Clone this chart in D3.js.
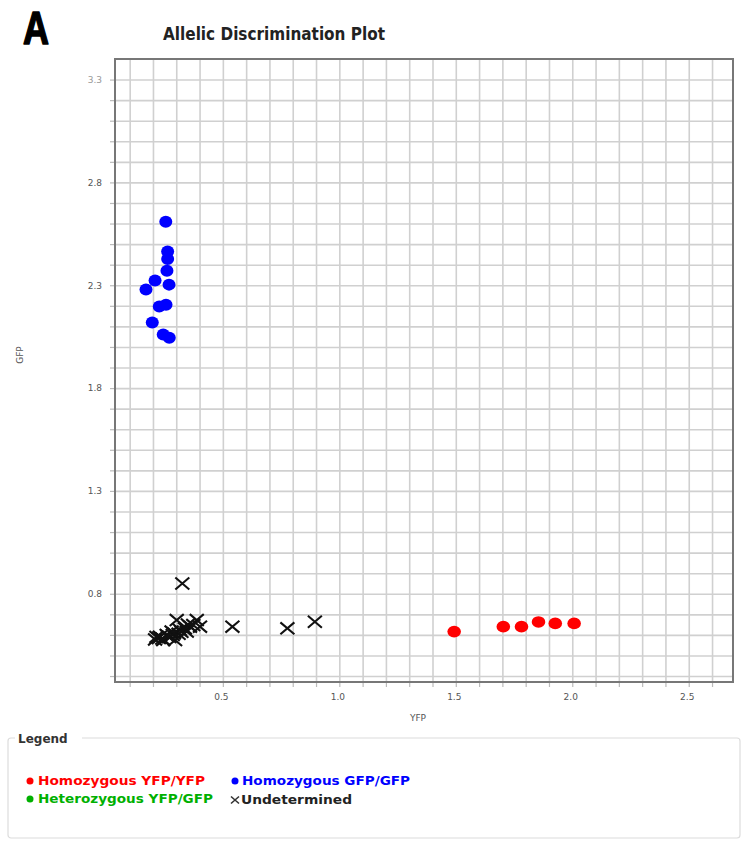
<!DOCTYPE html>
<html><head><meta charset="utf-8">
<script src="https://cdn.jsdelivr.net/npm/d3@7"></script>
<style>body{margin:0;background:#fff;}svg{display:block;}</style>
</head><body>
<svg id="c" width="742" height="841"></svg>
<script>
// ---- data ----
const homoGFP = [[0.255,2.609],[0.263,2.464],[0.263,2.428],[0.260,2.371],[0.209,2.323],[0.170,2.279],[0.269,2.303],[0.227,2.197],[0.256,2.205],[0.197,2.119],[0.244,2.061],[0.270,2.045]];
const homoYFP = [[1.493,0.616],[1.704,0.640],[1.782,0.640],[1.855,0.663],[1.927,0.656],[2.008,0.656]];
const heteroYFPGFP = [];
const undetermined = [[0.326,0.850],[0.541,0.640],[0.777,0.632],[0.895,0.664],
  [0.302,0.672],[0.388,0.672],[0.359,0.640],[0.230,0.591],[0.209,0.578],[0.259,0.600],[0.280,0.616],
  [0.316,0.624],[0.337,0.632],[0.373,0.648],[0.295,0.575],[0.244,0.575],[0.345,0.616],[0.402,0.640],
  [0.270,0.590],[0.310,0.605],[0.225,0.585],[0.350,0.650],[0.285,0.600],[0.215,0.590],[0.240,0.582],
  [0.262,0.595],[0.290,0.608],[0.322,0.615]];
const xTickLabels = ["0.5","1.0","1.5","2.0","2.5"];
const yTickLabels = ["0.8","1.3","1.8","2.3","2.8","3.3"];
const legendItems = [
  {label:"Homozygous YFP/YFP", color:"#ff0000", type:"dot"},
  {label:"Homozygous GFP/GFP", color:"#0000ff", type:"dot"},
  {label:"Heterozygous YFP/GFP", color:"#00b000", type:"dot"},
  {label:"Undetermined", color:"#000000", type:"x"}
];

const svg = d3.select("#c");
const L=115, R=733, T=59, B=682;
const x = d3.scaleLinear().domain([0.037,2.69]).range([L,R]);
const y = d3.scaleLinear().domain([0.371,3.4]).range([B,T]);

const xMinor = d3.range(1,27).map(i=>+(i/10).toFixed(1));
const yMinor = d3.range(4,34).map(i=>+(i/10).toFixed(1));

// grid
const gx = svg.append("g").attr("transform",`translate(0,${B})`)
  .call(d3.axisBottom(x).tickValues(xMinor).tickSize(-(B-T)).tickFormat(""));
gx.select(".domain").remove();
gx.selectAll("line").attr("stroke","#d0d0d0").attr("stroke-width",1.6);
const gy = svg.append("g").attr("transform",`translate(${L},0)`)
  .call(d3.axisLeft(y).tickValues(yMinor).tickSize(-(R-L)).tickFormat(""));
gy.select(".domain").remove();
gy.selectAll("line").attr("stroke","#d0d0d0").attr("stroke-width",1.6);

// outer ticks
const tx = svg.append("g").attr("transform",`translate(0,${B})`)
  .call(d3.axisBottom(x).tickValues(xMinor).tickSize(5).tickPadding(7)
    .tickFormat(d=>{const s=d.toFixed(1);return xTickLabels.includes(s)?s:"";}));
tx.select(".domain").remove();
tx.selectAll("line").attr("stroke","#bbb").attr("stroke-width",1.2);
tx.selectAll("text").attr("font-family","DejaVu Sans").attr("font-size",9).attr("fill","#555").attr("dx",-2);
const ty = svg.append("g").attr("transform",`translate(${L},0)`)
  .call(d3.axisLeft(y).tickValues(yMinor).tickSize(5).tickPadding(8)
    .tickFormat(d=>{const s=d.toFixed(1);return yTickLabels.includes(s)?s:"";}));
ty.select(".domain").remove();
ty.selectAll("line").attr("stroke","#bbb").attr("stroke-width",1.2);
ty.selectAll("text").attr("font-family","DejaVu Sans").attr("font-size",9)
  .attr("fill",d=>d.toFixed(1)==="3.3"?"#999":"#555");

// frame
svg.append("rect").attr("x",L).attr("y",T).attr("width",R-L).attr("height",B-T)
  .attr("fill","none").attr("stroke","#777").attr("stroke-width",2);

// points
svg.append("g").selectAll("ellipse").data(homoGFP).join("ellipse")
  .attr("cx",d=>x(d[0])).attr("cy",d=>y(d[1])).attr("rx",6.5).attr("ry",6).attr("fill","#0000ff");
svg.append("g").selectAll("ellipse").data(homoYFP).join("ellipse")
  .attr("cx",d=>x(d[0])).attr("cy",d=>y(d[1])).attr("rx",6.8).attr("ry",5.8).attr("fill","#ff0000");
svg.append("g").selectAll("ellipse").data(heteroYFPGFP).join("ellipse")
  .attr("cx",d=>x(d[0])).attr("cy",d=>y(d[1])).attr("rx",6.5).attr("ry",6).attr("fill","#00b000");
const s=7;
svg.append("g").selectAll("path").data(undetermined).join("path")
  .attr("d",d=>{const cx=x(d[0]),cy=y(d[1]);return `M${cx-s},${cy-s*0.85}L${cx+s},${cy+s*0.85}M${cx-s},${cy+s*0.85}L${cx+s},${cy-s*0.85}`;})
  .attr("stroke","#111").attr("stroke-width",2.1).attr("fill","none");

// titles
svg.append("text").attr("x",23).attr("y",44).text("A")
  .attr("font-family","Liberation Sans").attr("font-weight","bold").attr("font-size",46)
  .attr("textLength",26).attr("lengthAdjust","spacingAndGlyphs")
  .attr("stroke","#000").attr("stroke-width",1.6).attr("stroke-linejoin","round");
svg.append("text").attr("x",274).attr("y",40).attr("text-anchor","middle").text("Allelic Discrimination Plot")
  .attr("font-family","DejaVu Sans").attr("font-weight","bold").attr("font-size",18)
  .attr("textLength",222).attr("lengthAdjust","spacingAndGlyphs").attr("fill","#222");
svg.append("text").attr("x",418).attr("y",721).attr("text-anchor","middle").text("YFP")
  .attr("font-family","DejaVu Sans").attr("font-size",9).attr("fill","#555");
svg.append("text").attr("transform","translate(23,355) rotate(-90)").attr("text-anchor","middle").text("GFP")
  .attr("font-family","DejaVu Sans").attr("font-size",9).attr("fill","#555");

// legend
svg.append("rect").attr("x",8).attr("y",738).attr("width",732).attr("height",100).attr("rx",3)
  .attr("fill","none").attr("stroke","#dcdcdc").attr("stroke-width",1.2);
svg.append("rect").attr("x",15).attr("y",730).attr("width",67).attr("height",14).attr("fill","#fff");
svg.append("text").attr("x",18).attr("y",743).text("Legend")
  .attr("font-family","DejaVu Sans").attr("font-weight","bold").attr("font-size",12).attr("fill","#333");
const pos=[[30,781,38,167],[235,781,242,168],[30,799,38,175],[235,800,241,111]];
legendItems.forEach((it,i)=>{
  const [mx,my,tx0,tw]=pos[i];
  if(it.type==="dot") svg.append("circle").attr("cx",mx).attr("cy",my).attr("r",3.5).attr("fill",it.color);
  else svg.append("path").attr("d",`M${mx-4},${my-3.5}L${mx+4},${my+3.5}M${mx-4},${my+3.5}L${mx+4},${my-3.5}`)
    .attr("stroke","#333").attr("stroke-width",1.6);
  svg.append("text").attr("x",tx0).attr("y",my+4).text(it.label)
    .attr("font-family","DejaVu Sans").attr("font-weight","bold").attr("font-size",11.5)
    .attr("fill",it.color==="#000000"?"#222":it.color)
    .attr("textLength",tw).attr("lengthAdjust","spacingAndGlyphs");
});
</script>
</body></html>
